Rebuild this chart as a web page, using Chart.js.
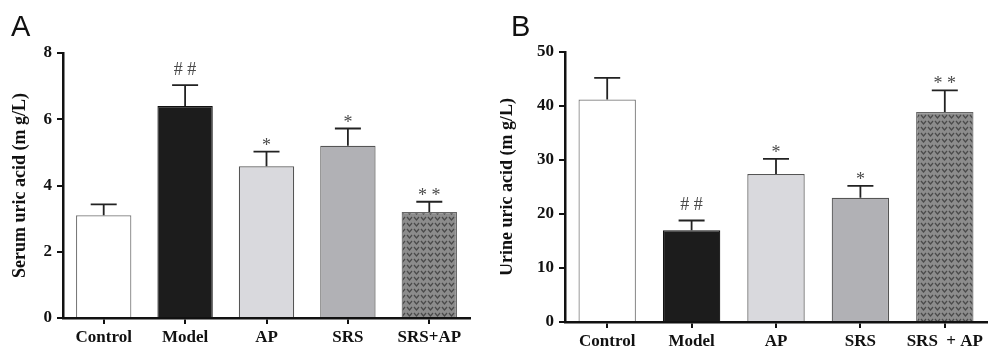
<!DOCTYPE html>
<html>
<head>
<meta charset="utf-8">
<script src="https://cdn.jsdelivr.net/npm/chart.js@4.4.1/dist/chart.umd.min.js"></script>
<style>
  body { margin: 0; background: #fff; width: 1006px; height: 358px; position: relative; overflow: hidden; }
  .panel { position: absolute; top: 0; height: 358px; }
  .letter { position: absolute; top: 10px; font: 29px "Liberation Sans", Arial, sans-serif; color: #111; }
</style>
</head>
<body>
<div class="panel" style="left:0;width:500px"><canvas id="chartA" width="500" height="358"></canvas></div>
<div class="panel" style="left:500px;width:506px"><canvas id="chartB" width="506" height="358"></canvas></div>
<div class="letter" style="left:11px">A</div>
<div class="letter" style="left:511px">B</div>
<script>
// groups
const groups = ['Control', 'Model', 'AP', 'SRS', 'SRS+AP'];
const groupsB = ['Control', 'Model', 'AP', 'SRS', 'SRS  + AP'];

// serum uric acid (panel A)
const serumMean = [3.1, 6.4, 4.58, 5.2, 3.2];
const serumErr = [0.33, 0.63, 0.44, 0.52, 0.31];
const serumMarks = ['', '# #', '*', '*', '* *'];

// urine uric acid (panel B)
const urineMean = [41.2, 17.0, 27.4, 23.0, 38.9];
const urineErr = [4.0, 1.8, 2.8, 2.2, 4.0];
const urineMarks = ['', '# #', '*', '*', '* *'];

const serif = '"Liberation Serif", "Times New Roman", serif';

// hatch pattern for the combined group
function makePattern() {
  const c = document.createElement('canvas');
  c.width = 7; c.height = 6;
  const g = c.getContext('2d');
  g.fillStyle = '#8c8c8c';
  g.fillRect(0, 0, 7, 6);
  g.strokeStyle = '#4a4a4a';
  g.lineWidth = 1.2;
  g.beginPath();
  g.moveTo(1, 1); g.lineTo(3.5, 4); g.lineTo(6, 1);
  g.stroke();
  return g.createPattern(c, 'repeat');
}
const pat = makePattern();
const fills = ['#ffffff', '#1c1c1c', '#d9d9dd', '#b1b1b5', pat];
const borders = ['#777', '#111', '#555', '#555', '#666'];

// error bars + significance marks
const errPlugin = {
  id: 'errbars',
  afterDatasetsDraw(chart, args, opts) {
    const ctx = chart.ctx;
    const meta = chart.getDatasetMeta(0);
    const ys = chart.scales.y;
    ctx.save();
    meta.data.forEach((bar, i) => {
      const top = ys.getPixelForValue(opts.mean[i] + opts.err[i]);
      ctx.strokeStyle = '#222';
      ctx.lineWidth = 1.8;
      ctx.beginPath();
      ctx.moveTo(bar.x, bar.y);
      ctx.lineTo(bar.x, top);
      ctx.moveTo(bar.x - 13, top);
      ctx.lineTo(bar.x + 13, top);
      ctx.stroke();
      const m = opts.marks[i];
      if (m) {
        ctx.fillStyle = '#4a4a4a';
        ctx.font = '18px ' + serif;
        ctx.textAlign = 'center';
        ctx.textBaseline = 'alphabetic';
        const isHash = m.indexOf('#') >= 0;
        ctx.fillText(m, bar.x, isHash ? top - 10 : top - 1);
      }
    });
    ctx.restore();
  }
};

function build(id, labels, mean, err, marks, max, step, yTitle, yWidth, padRight, padTop, xH, titlePad) {
  return new Chart(document.getElementById(id), {
    type: 'bar',
    data: {
      labels: labels,
      datasets: [{
        data: mean,
        backgroundColor: fills,
        borderColor: borders,
        borderWidth: 1.2,
        borderSkipped: 'bottom',
        barPercentage: 0.68,
        categoryPercentage: 1
      }]
    },
    options: {
      responsive: false,
      animation: false,
      layout: { padding: { top: padTop, right: padRight, left: 0, bottom: 0 } },
      plugins: {
        legend: { display: false },
        tooltip: { enabled: false },
        errbars: { mean: mean, err: err, marks: marks }
      },
      scales: {
        x: {
          grid: { display: true, drawOnChartArea: false, offset: false, color: '#111', lineWidth: 2, tickLength: 6 },
          border: { color: '#111', width: 2.5 },
          ticks: { color: '#111', font: { family: serif, size: 17, weight: 'bold' }, padding: 3, maxRotation: 0, autoSkip: false },
          afterFit(s) { s.height = xH; }
        },
        y: {
          min: 0, max: max,
          ticks: { stepSize: step, color: '#111', font: { family: serif, size: 17, weight: 'bold' }, padding: 5 },
          grid: { display: true, drawOnChartArea: false, color: '#111', lineWidth: 2, tickLength: 6 },
          border: { color: '#111', width: 2.5 },
          title: { display: true, text: yTitle, color: '#111', font: { family: serif, size: 18, weight: 'bold' }, padding: { top: titlePad, bottom: 4 } },
          afterFit(s) { s.width = yWidth; }
        }
      }
    },
    plugins: [errPlugin]
  });
}

build('chartA', groups, serumMean, serumErr, serumMarks, 8, 2, 'Serum uric acid (m g/L)', 63, 30, 53, 40, 10);
build('chartB', groupsB, urineMean, urineErr, urineMarks, 50, 10, 'Urine uric acid (m g/L)', 65, 19, 52, 36, -3);
</script>
</body>
</html>
